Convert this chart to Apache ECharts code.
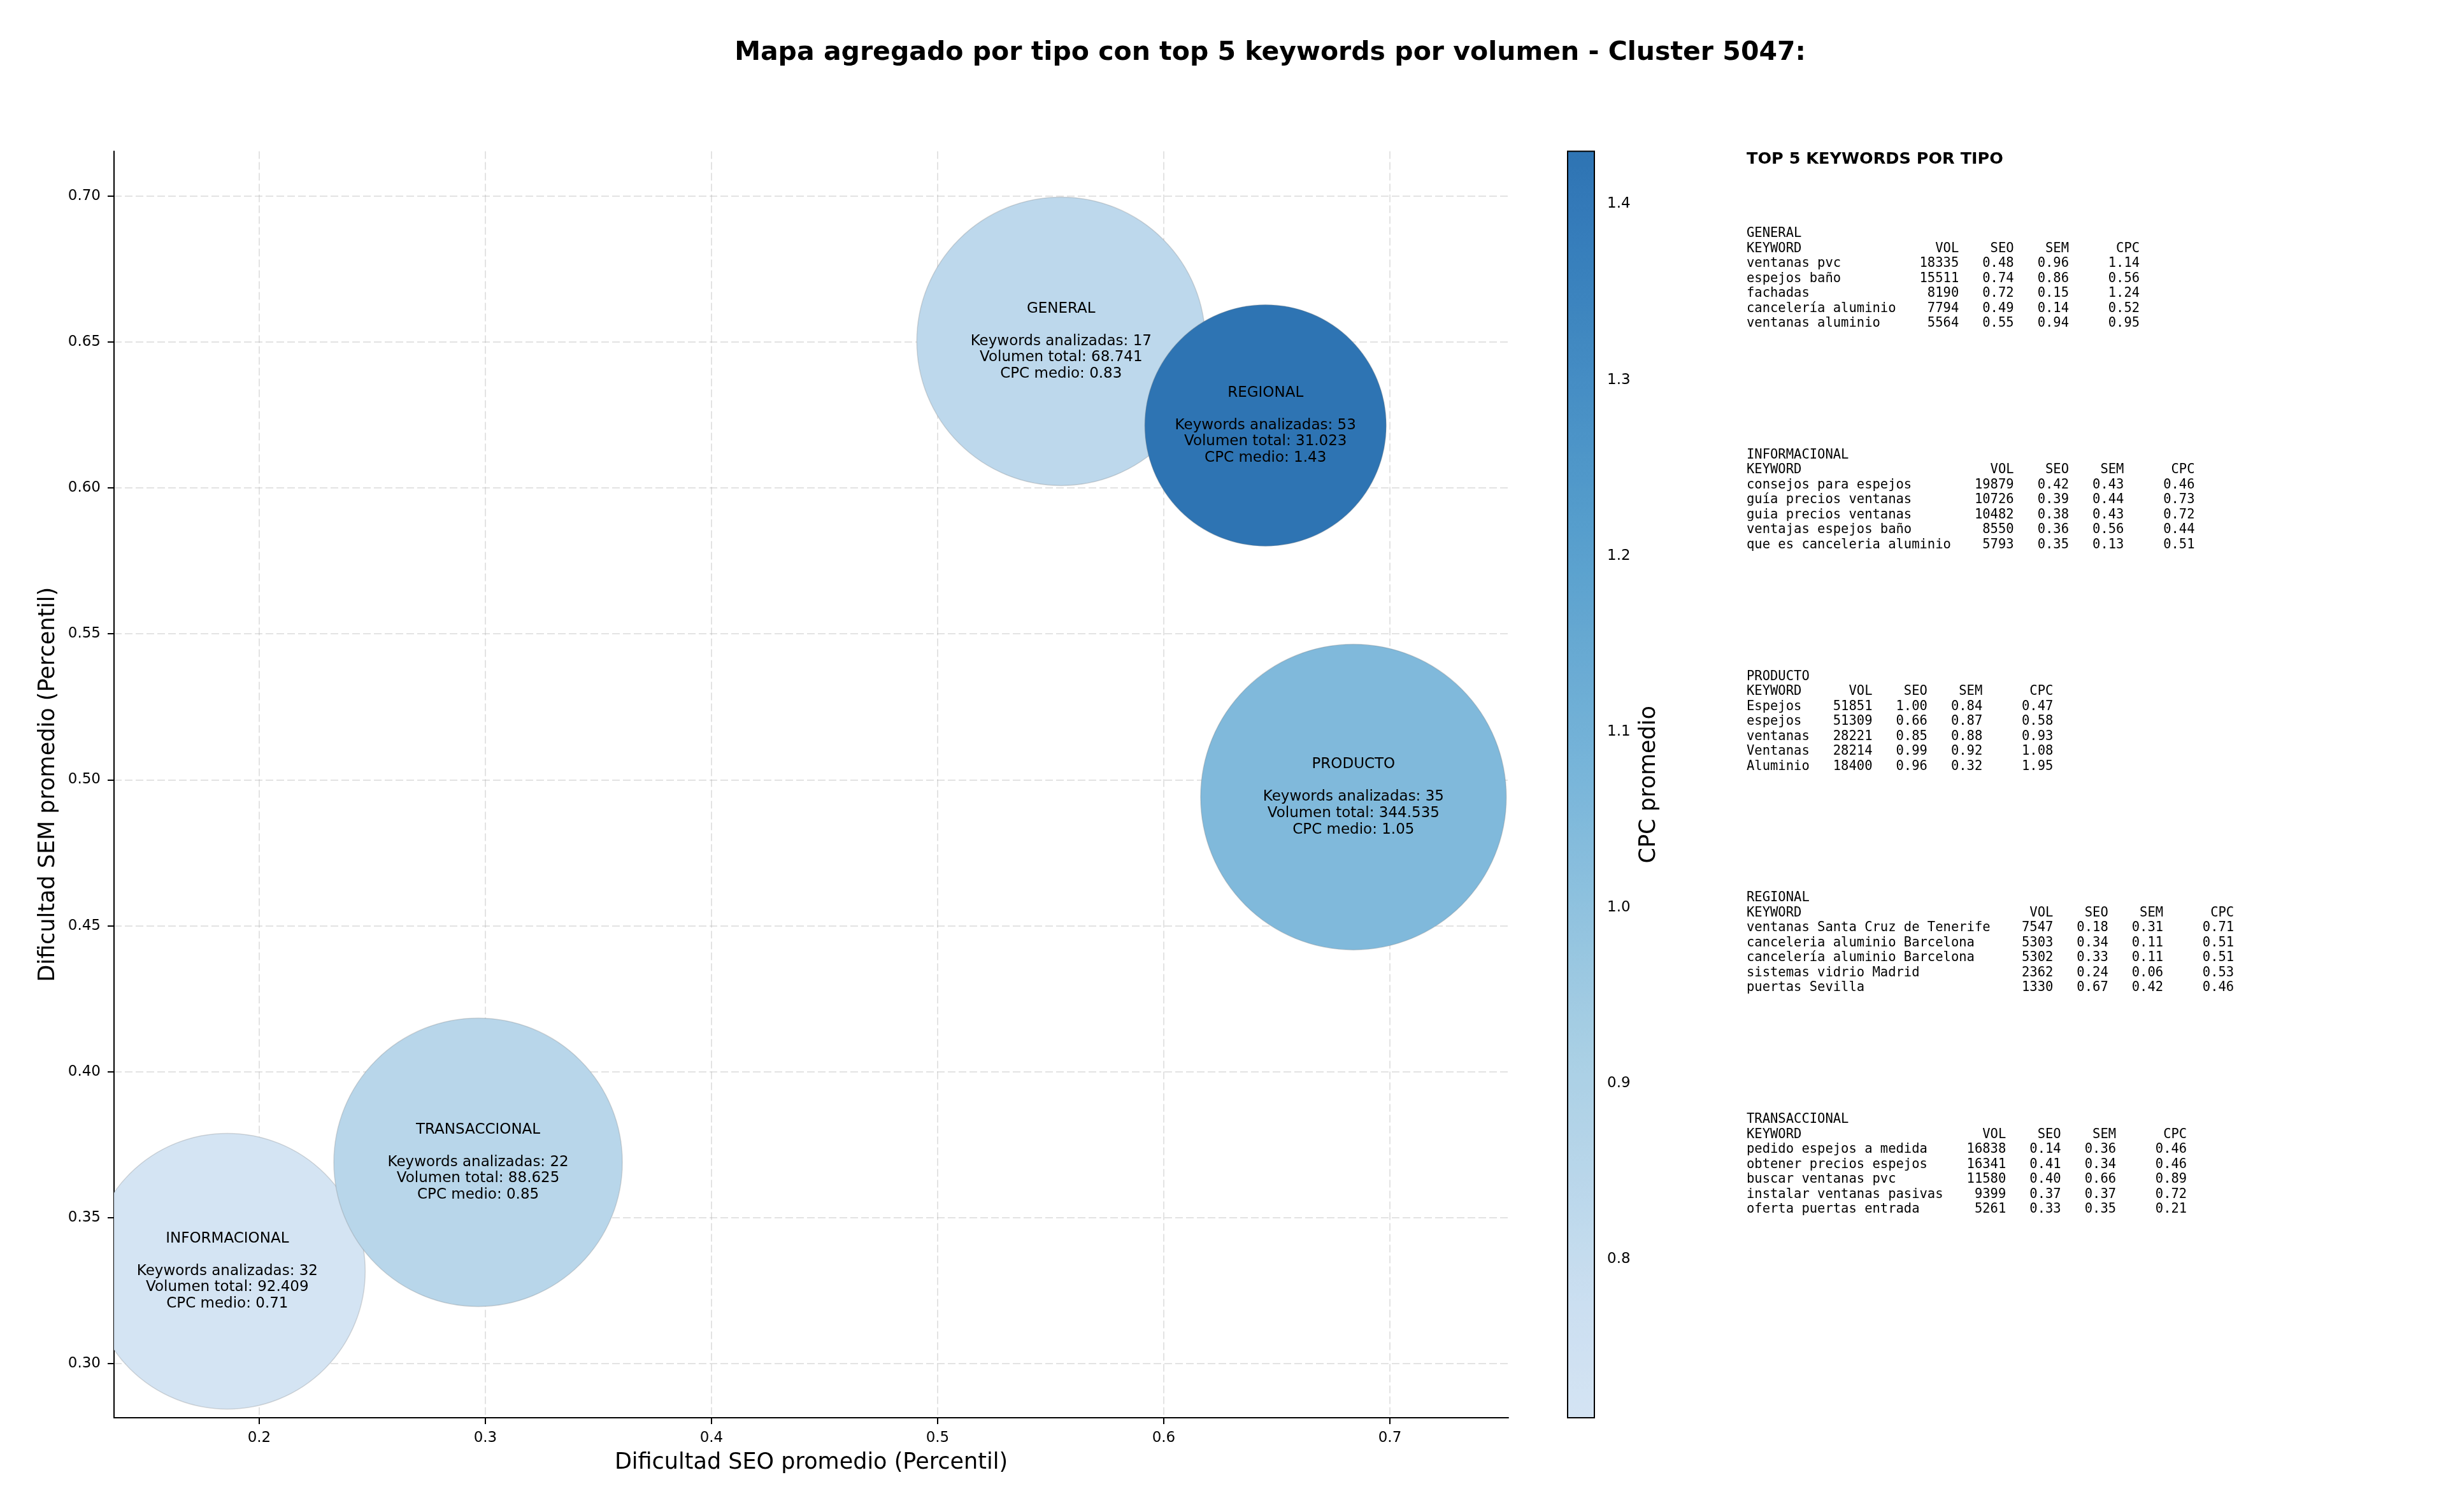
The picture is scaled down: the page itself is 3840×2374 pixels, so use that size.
<!DOCTYPE html>
<html>
<head>
<meta charset="utf-8">
<title>Mapa agregado por tipo - Cluster 5047</title>
<script src="https://cdn.jsdelivr.net/npm/echarts@6/dist/echarts.min.js"></script>
<style>
  html, body { margin: 0; padding: 0; background: #fff; }
  #chart { width: 3840px; height: 2374px; }
</style>
</head>
<body>
<div id="chart"></div>
<script>
// burbujas por tipo (orden alfabético, igual que la tabla)
const tipos = ['GENERAL', 'INFORMACIONAL', 'PRODUCTO', 'REGIONAL', 'TRANSACCIONAL'];
const seoMedio = [0.5546, 0.1859, 0.6839, 0.6450, 0.2968];
const semMedio = [0.6502, 0.3317, 0.4941, 0.6214, 0.3690];
const cpcMedio = [0.83, 0.71, 1.05, 1.43, 0.85];
const numKeywords = [17, 32, 35, 53, 22];
const volumenTotal = [68741, 92409, 344535, 31023, 88625];
// diámetro de cada burbuja
const bubbleSize = [453, 433, 480, 379, 453];

const xTicks = [0.2, 0.3, 0.4, 0.5, 0.6, 0.7];
const yTicks = [0.30, 0.35, 0.40, 0.45, 0.50, 0.55, 0.60, 0.65, 0.70];
const cbarTicks = [0.8, 0.9, 1.0, 1.1, 1.2, 1.3, 1.4];

// top 5 keywords: [keyword, vol, seo, sem, cpc]
const topGeneral = [
  ['ventanas pvc', 18335, 0.48, 0.96, 1.14],
  ['espejos baño', 15511, 0.74, 0.86, 0.56],
  ['fachadas', 8190, 0.72, 0.15, 1.24],
  ['cancelería aluminio', 7794, 0.49, 0.14, 0.52],
  ['ventanas aluminio', 5564, 0.55, 0.94, 0.95]
];
const topInformacional = [
  ['consejos para espejos', 19879, 0.42, 0.43, 0.46],
  ['guía precios ventanas', 10726, 0.39, 0.44, 0.73],
  ['guia precios ventanas', 10482, 0.38, 0.43, 0.72],
  ['ventajas espejos baño', 8550, 0.36, 0.56, 0.44],
  ['que es canceleria aluminio', 5793, 0.35, 0.13, 0.51]
];
const topProducto = [
  ['Espejos', 51851, 1.00, 0.84, 0.47],
  ['espejos', 51309, 0.66, 0.87, 0.58],
  ['ventanas', 28221, 0.85, 0.88, 0.93],
  ['Ventanas', 28214, 0.99, 0.92, 1.08],
  ['Aluminio', 18400, 0.96, 0.32, 1.95]
];
const topRegional = [
  ['ventanas Santa Cruz de Tenerife', 7547, 0.18, 0.31, 0.71],
  ['canceleria aluminio Barcelona', 5303, 0.34, 0.11, 0.51],
  ['cancelería aluminio Barcelona', 5302, 0.33, 0.11, 0.51],
  ['sistemas vidrio Madrid', 2362, 0.24, 0.06, 0.53],
  ['puertas Sevilla', 1330, 0.67, 0.42, 0.46]
];
const topTransaccional = [
  ['pedido espejos a medida', 16838, 0.14, 0.36, 0.46],
  ['obtener precios espejos', 16341, 0.41, 0.34, 0.46],
  ['buscar ventanas pvc', 11580, 0.40, 0.66, 0.89],
  ['instalar ventanas pasivas', 9399, 0.37, 0.37, 0.72],
  ['oferta puertas entrada', 5261, 0.33, 0.35, 0.21]
];
const topGroups = [topGeneral, topInformacional, topProducto, topRegional, topTransaccional];

// colormap Blues (matplotlib), recortado a 0.2-0.8 y con alpha 0.9 sobre blanco
const bluesStops = [
  [247, 251, 255], [222, 235, 247], [198, 219, 239], [158, 202, 225], [107, 174, 214],
  [66, 146, 198], [33, 113, 181], [8, 81, 156], [8, 48, 107]
];
function blues(t) {
  const p = t * 8, i = Math.min(7, Math.floor(p)), f = p - i;
  return bluesStops[i].map((c, k) => c + (bluesStops[i + 1][k] - c) * f);
}
const cmapColors = [];
for (let k = 0; k <= 24; k++) {
  const c = blues(0.2 + 0.6 * k / 24).map(v => Math.round(v * 0.9 + 255 * 0.1));
  cmapColors.push('rgb(' + c.join(',') + ')');
}

const fmtMiles = v => String(v).replace(/\B(?=(\d{3})+(?!\d))/g, '.');

function tableText(name, rows) {
  const w = Math.max(...rows.map(r => r[0].length));
  const line = (a, b, c, d, e) =>
    a.padEnd(w) + ' ' + String(b).padStart(7) + ' ' + c.padStart(6) + ' ' + d.padStart(6) + ' ' + e.padStart(8);
  return [name, line('KEYWORD', 'VOL', 'SEO', 'SEM', 'CPC')]
    .concat(rows.map(r => line(r[0], r[1], r[2].toFixed(2), r[3].toFixed(2), r[4].toFixed(2))))
    .join('\n');
}

const bubbleData = tipos.map((t, i) => [seoMedio[i], semMedio[i], cpcMedio[i], i, bubbleSize[i]]);

const labelText = i =>
  tipos[i] + '\n\nKeywords analizadas: ' + numKeywords[i] +
  '\nVolumen total: ' + fmtMiles(volumenTotal[i]) +
  '\nCPC medio: ' + cpcMedio[i].toFixed(2);

const FONT = 'DejaVu Sans';
const MONO = 'DejaVu Sans Mono';

const graphics = [
  {
    type: 'text', x: 1994, y: 83,
    style: { text: 'Mapa agregado por tipo con top 5 keywords por volumen - Cluster 5047:',
      fontFamily: FONT, fontSize: 41, fontWeight: 'bold', fill: '#000',
      align: 'center', verticalAlign: 'middle' }
  },
  {
    type: 'text', x: 2742, y: 250,
    style: { text: 'TOP 5 KEYWORDS POR TIPO', fontFamily: FONT, fontSize: 25.5,
      fontWeight: 'bold', fill: '#000', align: 'left', verticalAlign: 'middle' }
  }
];
topGroups.forEach((rows, g) => {
  graphics.push({
    type: 'text', x: 2742, y: 355 + g * 347.8,
    style: { text: tableText(tipos[g], rows), fontFamily: MONO, fontSize: 20.5,
      lineHeight: 23.5, fill: '#000', align: 'left', verticalAlign: 'top' }
  });
});

const chart = echarts.init(document.getElementById('chart'));

const option = {
  backgroundColor: '#fff',
  animation: false,
  textStyle: { fontFamily: FONT },
  grid: [
    { left: 179, right: 1472, top: 237.5, bottom: 148 },
    { left: 2461, width: 42, top: 237.5, height: 1988.5, show: true,
      borderColor: '#000', borderWidth: 2, backgroundColor: 'transparent', z: 10 }
  ],
  xAxis: [
    {
      type: 'value', gridIndex: 0, min: 0.1358, max: 0.7524,
      name: 'Dificultad SEO promedio (Percentil)', nameLocation: 'middle', nameGap: 53,
      nameTextStyle: { fontSize: 35, color: '#000', fontFamily: FONT },
      axisLine: { onZero: false, lineStyle: { color: '#000', width: 2 } },
      axisTick: { show: true, length: 10, customValues: xTicks, lineStyle: { color: '#000', width: 2 } },
      axisLabel: { customValues: xTicks, fontSize: 23, color: '#000', margin: 21,
        formatter: v => v.toFixed(1) },
      splitLine: { show: true, lineStyle: { color: 'rgba(176,176,176,0.35)', width: 2, type: [12, 5] } }
    },
    { type: 'value', gridIndex: 1, min: 0, max: 1, show: false }
  ],
  yAxis: [
    {
      type: 'value', gridIndex: 0, min: 0.2815, max: 0.7153,
      name: 'Dificultad SEM promedio (Percentil)', nameLocation: 'middle', nameGap: 86, nameRotate: 90,
      nameTextStyle: { fontSize: 35, color: '#000', fontFamily: FONT },
      axisLine: { onZero: false, lineStyle: { color: '#000', width: 2 } },
      axisTick: { show: true, length: 10, customValues: yTicks, lineStyle: { color: '#000', width: 2 } },
      axisLabel: { customValues: yTicks, fontSize: 23, color: '#000', margin: 21,
        formatter: v => v.toFixed(2) },
      splitLine: { show: true, lineStyle: { color: 'rgba(176,176,176,0.35)', width: 2, type: [12, 5] } }
    },
    {
      type: 'value', gridIndex: 1, min: 0.71, max: 1.43, position: 'right',
      name: 'CPC promedio', nameLocation: 'middle', nameGap: 68, nameRotate: 90,
      nameTextStyle: { fontSize: 35, color: '#000', fontFamily: FONT },
      axisLine: { show: false },
      axisTick: { show: true, length: 10, customValues: cbarTicks, lineStyle: { color: '#000', width: 2 } },
      axisLabel: { customValues: cbarTicks, fontSize: 23, color: '#000', margin: 20,
        formatter: v => v.toFixed(1) },
      splitLine: { show: false }
    }
  ],
  visualMap: {
    type: 'continuous', seriesIndex: 0, dimension: 2,
    min: 0.71, max: 1.43, calculable: false, text: null,
    left: 2461, top: 237.5, itemWidth: 42, itemHeight: 1988.5, padding: 0,
    inRange: { color: cmapColors },
    showLabel: false
  },
  graphic: graphics,
  series: [
    {
      type: 'custom',
      coordinateSystem: 'cartesian2d',
      xAxisIndex: 0, yAxisIndex: 0,
      clip: true,
      encode: { x: 0, y: 1 },
      data: bubbleData,
      renderItem: (params, api) => {
        const p = api.coord([api.value(0), api.value(1)]);
        const i = api.value(3);
        return {
          type: 'group',
          children: [
            {
              type: 'circle', z2: 1 + i,
              shape: { cx: p[0], cy: p[1], r: api.value(4) / 2 },
              style: { fill: api.visual('color'), stroke: 'rgba(110,110,110,0.25)', lineWidth: 1.5 }
            },
            {
              type: 'text', x: p[0], y: p[1], z2: 100,
              style: { text: labelText(i), fontFamily: FONT, fontSize: 23, lineHeight: 25.6,
                fill: '#000', align: 'center', verticalAlign: 'middle' }
            }
          ]
        };
      }
    },
    { type: 'scatter', xAxisIndex: 1, yAxisIndex: 1, data: [] }
  ]
};

chart.setOption(option);
window.addEventListener('resize', () => chart.resize());
</script>
</body>
</html>
